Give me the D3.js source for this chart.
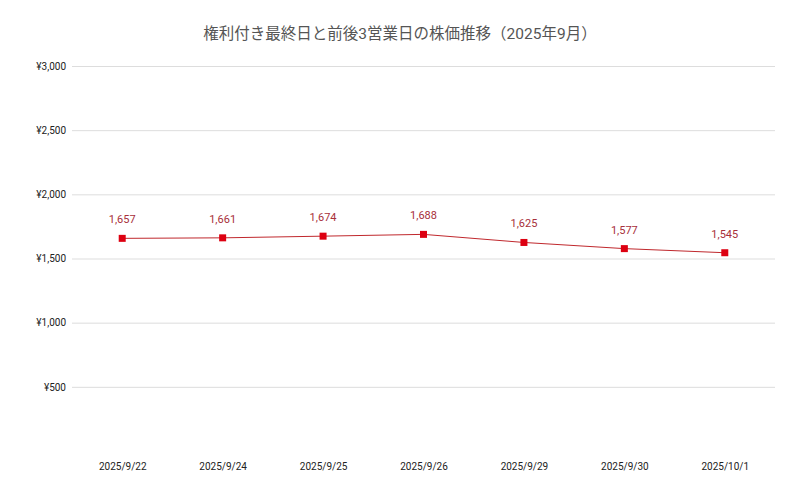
<!DOCTYPE html>
<html>
<head>
<meta charset="utf-8">
<script src="https://cdn.jsdelivr.net/npm/d3@7"></script>
<style>
  body { margin: 0; background: #fff; }
  svg { display: block; }
  svg text { font-family: Roboto, "Noto Sans CJK JP", sans-serif; }
</style>
</head>
<body>
<div id="chart"></div>
<script>
const title = '権利付き最終日と前後3営業日の株価推移（2025年9月）';
const dates = ['2025/9/22', '2025/9/24', '2025/9/25', '2025/9/26', '2025/9/29', '2025/9/30', '2025/10/1'];
const prices = [1657, 1661, 1674, 1688, 1625, 1577, 1545];
const yTicks = [500, 1000, 1500, 2000, 2500, 3000];

const width = 800, height = 494;
const margin = {top: 66, right: 25, bottom: 43, left: 72};

const svg = d3.select('#chart').append('svg')
  .attr('width', width)
  .attr('height', height);

svg.append('text')
  .attr('x', width / 2)
  .attr('y', 39)
  .attr('text-anchor', 'middle')
  .attr('fill', '#555')
  .style('font-size', '15.5px')
  .text(title);

const data = dates.map((d, i) => ({date: d, value: prices[i]}));

//
// Scales
//

const x = d3.scalePoint()
  .domain(dates)
  .range([margin.left, width - margin.right])
  .padding(0.5);
const y = d3.scaleLinear()
  .domain([0, 3000])
  .range([height - margin.bottom, margin.top]);

//
// Axes
//

const yAxis = svg.append('g')
  .attr('transform', `translate(${margin.left},0)`)
  .call(d3.axisLeft(y)
    .tickValues(yTicks)
    .tickSize(-(width - margin.left - margin.right))
    .tickPadding(6)
    .tickFormat(d => '¥' + d3.format(',')(d)));
yAxis.select('.domain').remove();
yAxis.selectAll('line').attr('stroke', '#ddd');
yAxis.selectAll('text')
  .attr('fill', '#222')
  .style('font-size', '10px');

const xAxis = svg.append('g')
  .attr('transform', `translate(0,${height - 43})`)
  .call(d3.axisBottom(x).tickSize(0).tickPadding(12));
xAxis.select('.domain').remove();
xAxis.selectAll('text')
  .attr('fill', '#222')
  .style('font-size', '10px');

//
// Line and points
//

svg.append('path')
  .datum(data)
  .attr('fill', 'none')
  .attr('stroke', '#c0282d')
  .attr('stroke-width', 1)
  .attr('d', d3.line().x(d => x(d.date)).y(d => y(d.value)));

svg.selectAll('.pt').data(data).enter().append('rect')
  .attr('class', 'pt')
  .attr('x', d => x(d.date) - 3.5)
  .attr('y', d => y(d.value) - 3.5)
  .attr('width', 7)
  .attr('height', 7)
  .attr('fill', '#dd0011');

svg.selectAll('.lbl').data(data).enter().append('text')
  .attr('class', 'lbl')
  .attr('x', d => x(d.date))
  .attr('y', d => y(d.value) - 15)
  .attr('text-anchor', 'middle')
  .attr('fill', '#a8303a')
  .style('font-size', '11px')
  .text(d => d3.format(',')(d.value));
</script>
</body>
</html>
